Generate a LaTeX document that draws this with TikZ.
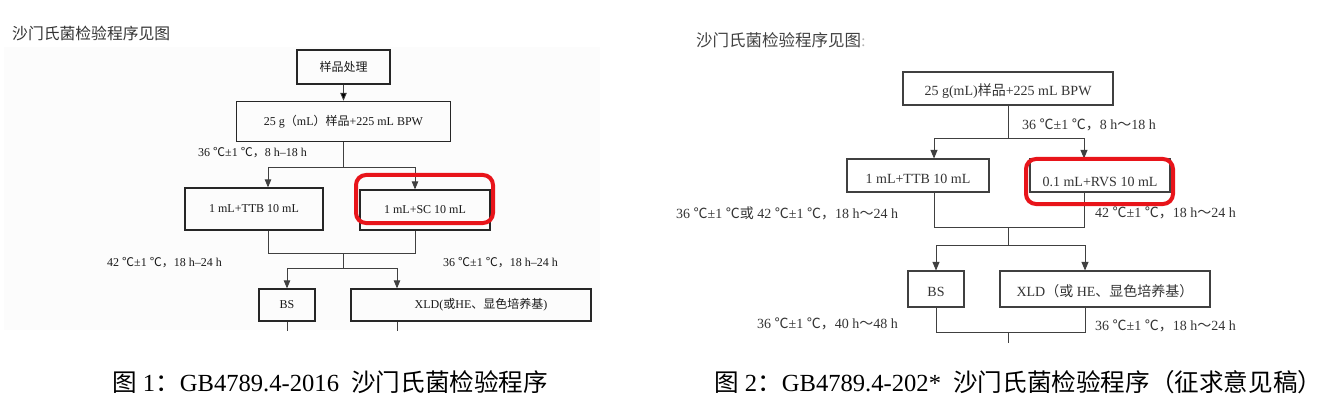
\documentclass[tikz,border=0pt]{standalone}
\usepackage{fontspec}
\setmainfont{Liberation Serif}
\newfontfamily\cjk{Noto Sans CJK SC}
\newcommand{\zh}[1]{{\cjk #1}}
\definecolor{hilite}{RGB}{232,20,26}
\usetikzlibrary{arrows,positioning,calc}

\begin{document}
\begin{tikzpicture}[x=1pt,y=-1pt,>=triangle 45,
  lbox/.style={draw=black!85,line width=1.4pt,inner sep=0pt,font=\fontsize{12}{14}\selectfont,text=black!90},
  rbox/.style={draw=black!75,line width=1.1pt,inner sep=0pt,font=\fontsize{14}{16}\selectfont,text=black!80,text height=15pt,text depth=0pt},
  lnote/.style={font=\fontsize{12}{14}\selectfont,text=black!90,inner sep=0pt,anchor=west},
  rnote/.style={font=\fontsize{14}{16}\selectfont,text=black!80,inner sep=0pt,anchor=west},
  lline/.style={draw=black!75,line width=0.8pt},
  rline/.style={draw=black!75,line width=1pt},
  redbox/.style={draw=hilite,line width=4pt,rounded corners=10pt},
  caption/.style={font=\fontsize{24.6}{28}\selectfont,inner sep=0pt,anchor=west}]
\useasboundingbox (0,0) rectangle (1326,409);
\fill[black!1.2] (4,47) rectangle (600,330);

% left: GB4789.4-2016
\node[anchor=west,inner sep=0pt,font=\fontsize{15.8}{18}\selectfont,text=black!80] (ltitle) at (12,33) {\zh{沙门氏菌检验程序见图}};
\node[lbox,minimum width=93pt,minimum height=34pt] (l1) at (343.5,67) {\zh{样品处理}};
\node[lbox,minimum width=214pt,minimum height=40pt,below=16pt of l1] (l2) {25 g\zh{（}mL\zh{）样品}+225 mL BPW};
\node[lbox,minimum width=138pt,minimum height=42pt] (l3) at (254,209) {1 mL+TTB 10 mL};
\node[lbox,minimum width=130pt,minimum height=40pt] (l4) at (425,210) {1 mL+SC 10 mL};
\node[lbox,minimum width=56pt,minimum height=32pt] (l5) at (287,305) {BS};
\node[lbox,minimum width=240pt,minimum height=32pt] (l6) at (471,305) {\hspace{20pt}XLD(\zh{或}HE\zh{、显色培养基})};

\node[lnote] (lc1) at (198,153) {36 \zh{℃}±1 \zh{℃，}8 h–18 h};
\node[lnote] (lc2) at (107,263) {42 \zh{℃}±1 \zh{℃，}18 h–24 h};
\node[lnote] (lc3) at (443,263) {36 \zh{℃}±1 \zh{℃，}18 h–24 h};

\coordinate (l2j) at ($(l2.south)+(0,25)$);
\coordinate (l34) at ($(l2j)+(0,86)$);
\coordinate (l56j) at ($(l34)+(0,15)$);
\coordinate (l5e) at ($(l5.south)+(0,9)$);
\coordinate (l6e) at ($(l6.south)+(-74,9)$);
\path[lline,->] (l1) edge (l2);
\draw[lline] (l2.south) -- (l2j);
\draw[lline,->] (l2j) -| ($(l3.north)+(14,0)$);
\draw[lline,->] (l2j) -| ($(l4.north)+(-10,0)$);
\draw[lline] ($(l3.south)+(14,0)$) |- (l34) -| ($(l4.south)+(-10,0)$);
\draw[lline] (l34) -- (l56j);
\draw[lline,->] (l56j) -| (l5.north);
\draw[lline,->] (l56j) -| ($(l6.north)+(-74,0)$);
\draw[lline] (l5.south) -- (l5e);
\draw[lline] ($(l6.south)+(-74,0)$) -- (l6e);
\draw[redbox] (356,175) rectangle (493,223);

% right: GB4789.4-202*
\node[anchor=west,inner sep=0pt,font=\fontsize{16.5}{18}\selectfont,text=black!75] (rtitle) at (696,40) {\zh{沙门氏菌检验程序见图}\textcolor{black!30}{:}};
\node[rbox,minimum width=210pt,minimum height=33pt] (r1) at (1008,88.5) {25 g(mL)\zh{样品}+225 mL BPW};
\node[rbox,minimum width=142pt,minimum height=33pt] (r2) at (918,175.5) {1 mL+TTB 10 mL};
\node[rbox,minimum width=140pt,minimum height=33pt,text height=22pt] (r3) at (1100,175.5) {0.1 mL+RVS 10 mL};
\node[rbox,minimum width=56pt,minimum height=36pt] (r4) at (936,289) {BS};
\node[rbox,minimum width=210pt,minimum height=36pt] (r5) at (1105,289) {XLD\zh{（或} HE\zh{、显色培养基）}};

\node[rnote] (rc1) at (1022,125) {36 \zh{℃}±1 \zh{℃，}8 h\zh{～}18 h};
\node[rnote] (rc2) at (676,213) {36 \zh{℃}±1 \zh{℃或} 42 \zh{℃}±1 \zh{℃，}18 h\zh{～}24 h};
\node[rnote] (rc3) at (1095,213) {42 \zh{℃}±1 \zh{℃，}18 h\zh{～}24 h};
\node[rnote] (rc4) at (757,324) {36 \zh{℃}±1 \zh{℃，}40 h\zh{～}48 h};
\node[rnote] (rc5) at (1095,326) {36 \zh{℃}±1 \zh{℃，}18 h\zh{～}24 h};

\coordinate (r1j) at ($(r1.south)+(0,33)$);
\coordinate (r23) at ($(r1j)+(0,89)$);
\coordinate (r45j) at ($(r23)+(0,18)$);
\coordinate (r45e) at ($(r45j)+(0,87)$);
\coordinate (rend) at ($(r45e)+(0,10)$);
\draw[rline] (r1.south) -- (r1j);
\draw[rline,->] (r1j) -| ($(r2.north)+(16,0)$);
\draw[rline,->] (r1j) -| ($(r3.north)+(-16,0)$);
\draw[rline] ($(r2.south)+(16,0)$) |- (r23) -| ($(r3.south)+(-16,0)$);
\draw[rline] (r23) -- (r45j);
\draw[rline,->] (r45j) -| (r4.north);
\draw[rline,->] (r45j) -| ($(r5.north)+(-20,0)$);
\draw[rline] (r4.south) |- (r45e) -| ($(r5.south)+(-20,0)$);
\draw[rline] (r45e) -- (rend);
\draw[redbox] (1026,159) rectangle (1173,204);

% captions
\node[caption] (cap1) at (112,382) {\zh{图} 1\zh{：}GB4789.4-2016\ \ \zh{沙门氏菌检验程序}};
\node[caption] (cap2) at (714,382) {\zh{图} 2\zh{：}GB4789.4-202*\ \ \zh{沙门氏菌检验程序（征求意见稿）}};
\end{tikzpicture}
\end{document}
